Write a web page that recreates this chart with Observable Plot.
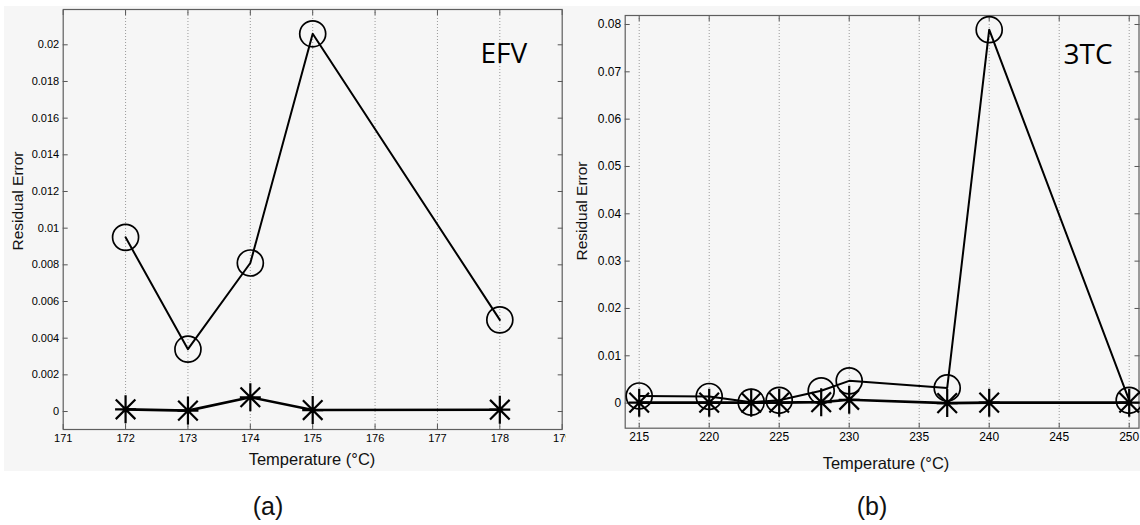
<!DOCTYPE html>
<html>
<head>
<meta charset="utf-8">
<script src="https://cdn.jsdelivr.net/npm/d3@7"></script>
<script src="https://cdn.jsdelivr.net/npm/@observablehq/plot@0.6"></script>
<style>
  body { margin: 0; background: #ffffff; }
  #wrap { position: relative; width: 1140px; height: 525px; overflow: hidden; background: #ffffff;
          font-family: "Liberation Sans", Arial, sans-serif; }
  #band { position: absolute; left: 4px; top: 6px; width: 1136px; height: 465px; background: #f6f6f6; }
  .panel { position: absolute; }
  .lab { position: absolute; color: #111; white-space: nowrap; transform: translate(-50%, -50%); line-height: 1; }
  .ylab { transform: translate(-50%, -50%) rotate(-90deg); }
</style>
</head>
<body>
<div id="wrap">
  <div id="band"></div>
  <div id="pa" class="panel" style="left:4px; top:7px;"></div>
  <div id="pb" class="panel" style="left:572px; top:5px;"></div>
  <div class="lab" style="left:312px; top:459px; font-size:16.5px;">Temperature (°C)</div>
  <div class="lab" style="left:886px; top:463px; font-size:16.5px;">Temperature (°C)</div>
  <div class="lab ylab" style="left:18px; top:201px; font-size:15.5px;">Residual Error</div>
  <div class="lab ylab" style="left:582px; top:211px; font-size:15.5px;">Residual Error</div>
  <div class="lab" style="left:268px; top:506px; font-size:25px;">(a)</div>
  <div class="lab" style="left:872px; top:506px; font-size:25px;">(b)</div>
</div>
<script>
// ---- Panel (a): EFV ----
const tempA   = [172, 173, 174, 175, 178];
const circleA = [0.0095, 0.0034, 0.0081, 0.0206, 0.0050];
const starA   = [0.00012, 0.00005, 0.00078, 0.00008, 0.0001];
const xTicksA = [171, 172, 173, 174, 175, 176, 177, 178, 179];
const yTicksA = [0, 0.002, 0.004, 0.006, 0.008, 0.01, 0.012, 0.014, 0.016, 0.018, 0.02];
const xDomainA = [171, 179];
const yDomainA = [-0.00098, 0.021925];
const tagA = "EFV";

// ---- Panel (b): 3TC ----
const tempB   = [215, 220, 223, 225, 228, 230, 237, 240, 250];
const circleB = [0.0015, 0.0014, 0.0002, 0.0006, 0.0026, 0.0047, 0.0032, 0.0789, 0.0006];
const starB   = [0.0001, 0.0001, 0.0001, 0.0001, 0.0002, 0.0007, 0.0000, 0.0001, 0.0001];
const xTicksB = [215, 220, 225, 230, 235, 240, 245, 250];
const yTicksB = [0, 0.01, 0.02, 0.03, 0.04, 0.05, 0.06, 0.07, 0.08];
const xDomainB = [214, 250.7];
const yDomainB = [-0.0053, 0.0819];
const tagB = "3TC";

// MATLAB-style 8-armed asterisk
const asterisk8 = {
  draw(ctx, size) {
    const r = Math.sqrt(size / Math.PI);
    const v = r, h = r * 0.75, d = r * 0.7;
    ctx.moveTo(0, -v); ctx.lineTo(0, v);
    ctx.moveTo(-h, 0); ctx.lineTo(h, 0);
    ctx.moveTo(-d, -d); ctx.lineTo(d, d);
    ctx.moveTo(-d, d); ctx.lineTo(d, -d);
  }
};

function panel(o) {
  const circles = o.temps.map((t, i) => ({t, v: o.circle[i]}));
  const stars = o.temps.map((t, i) => ({t, v: o.star[i]}));
  return Plot.plot({
    width: o.width, height: o.height,
    marginLeft: o.ml, marginRight: o.mr, marginTop: o.mt, marginBottom: o.mb,
    style: {background: "transparent", fontFamily: "Liberation Sans, Arial, sans-serif",
            fontSize: o.fontSize + "px", color: "#000", overflow: "hidden"},
    x: {domain: o.xDomain},
    y: {domain: o.yDomain},
    marks: [
      Plot.ruleX(o.xTicks.filter(t => t > o.xDomain[0] && t < o.xDomain[1]),
                 {stroke: "#9a9a9a", strokeDasharray: "1,2", strokeWidth: 1}),
      Plot.axisX({anchor: "bottom", ticks: o.xTicks, tickSize: 0, tickPadding: o.xPad, label: null,
                  tickFormat: d => String(d), fill: "#000"}),
      Plot.axisX({anchor: "bottom", ticks: o.xTicks, tickSize: -5, tickFormat: () => "", label: null, stroke: "#555"}),
      Plot.axisX({anchor: "top", ticks: o.xTicks, tickSize: -5, tickFormat: () => "", label: null, stroke: "#555"}),
      Plot.axisY({anchor: "left", ticks: o.yTicks, tickSize: 0, tickPadding: 4, label: null,
                  tickFormat: d => String(d), fill: "#000"}),
      Plot.axisY({anchor: "left", ticks: o.yTicks, tickSize: -5, tickFormat: () => "", label: null, stroke: "#555"}),
      Plot.axisY({anchor: "right", ticks: o.yTicks, tickSize: -5, tickFormat: () => "", label: null, stroke: "#555"}),
      Plot.frame({stroke: "#5e5e5e", strokeWidth: 1.2}),
      Plot.line(circles, {x: "t", y: "v", stroke: "#000", strokeWidth: 2}),
      Plot.line(stars, {x: "t", y: "v", stroke: "#000", strokeWidth: 2.6}),
      Plot.dot(circles, {x: "t", y: "v", r: 13, stroke: "#000", strokeWidth: 1.7, fill: "none"}),
      Plot.dot(stars, {x: "t", y: "v", r: 14, symbol: asterisk8, stroke: "#000", strokeWidth: 2.2, fill: "none"}),
      Plot.text([o.tag], {frameAnchor: "top-right", dx: o.tagDx, dy: o.tagDy, textAnchor: "start",
                          lineAnchor: "bottom", fontSize: 28, fontFamily: "Open Sans", fill: "#000"})
    ]
  });
}

document.getElementById("pa").append(panel({
  temps: tempA, circle: circleA, star: starA, xTicks: xTicksA, yTicks: yTicksA,
  xDomain: xDomainA, yDomain: yDomainA, tag: tagA,
  width: 562, height: 464, ml: 58.7, mr: 4.3, mt: 2, mb: 42,
  fontSize: 11, xPad: 5, tagDx: -81.7, tagDy: 53.7
}));

document.getElementById("pb").append(panel({
  temps: tempB, circle: circleB, star: starB, xTicks: xTicksB, yTicks: yTicksB,
  xDomain: xDomainB, yDomain: yDomainB, tag: tagB,
  width: 568, height: 468, ml: 52.7, mr: 1.5, mt: 10, mb: 45.3,
  fontSize: 12, xPad: 4, tagDx: -75.5, tagDy: 48
}));
</script>
</body>
</html>
